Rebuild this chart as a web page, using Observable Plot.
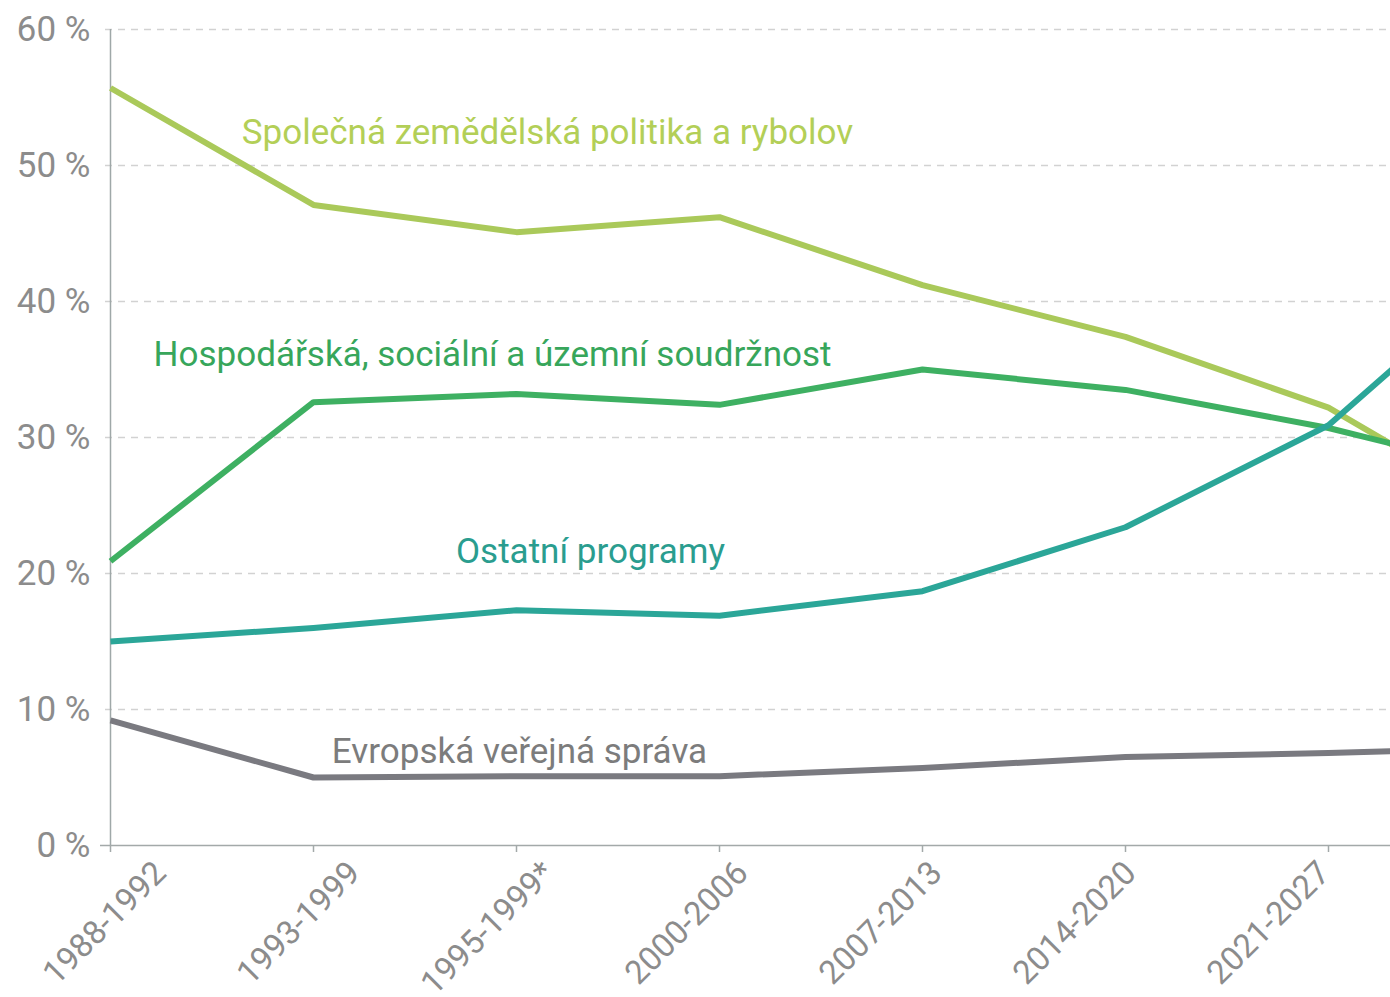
<!DOCTYPE html>
<html>
<head>
<meta charset="utf-8">
<script src="https://cdn.jsdelivr.net/npm/d3@7"></script>
<script src="https://cdn.jsdelivr.net/npm/@observablehq/plot@0.6"></script>
<style>
  html, body { margin: 0; padding: 0; background: #fff; }
  #wrap { position: relative; width: 1390px; height: 997px; overflow: hidden; background: #fff; }
  #wrap svg { position: absolute; left: 0; top: 0; max-width: none !important; }
</style>
</head>
<body>
<div id="wrap"></div>
<script>
// ---- data ----
const periods = ["1988-1992", "1993-1999", "1995-1999*", "2000-2006", "2007-2013", "2014-2020", "2021-2027", "2028-2034"];
const visiblePeriods = periods.slice(0, 7);
const seriesKeys = ["admin", "cap", "cohesion", "other"];
const seriesNames = {
  cap: "Společná zemědělská politika a rybolov",
  cohesion: "Hospodářská, sociální a územní soudržnost",
  other: "Ostatní programy",
  admin: "Evropská veřejná správa"
};
const cap      = [55.7, 47.1, 45.1, 46.2, 41.2, 37.4, 32.2, 23.5];
const cohesion = [20.9, 32.6, 33.2, 32.4, 35.0, 33.5, 30.7, 27.0];
const other    = [15.0, 16.0, 17.3, 16.9, 18.7, 23.4, 30.9, 44.0];
const admin    = [ 9.2,  5.0,  5.1,  5.1,  5.7,  6.5,  6.8,  7.2];
const yTicks = [0, 10, 20, 30, 40, 50, 60];

// label anchor (category + value)
const labelPos = {
  cap:      {period: "1995-1999*", y: 52.4},
  cohesion: {period: "1995-1999*", y: 36.1},
  other:    {period: "2000-2006",  y: 21.6},
  admin:    {period: "1995-1999*", y: 6.9}
};

// ---- build table ----
const valuesByKey = {cap, cohesion, other, admin};
const table = [];
for (const k of seriesKeys) {
  valuesByKey[k].forEach((v, i) => table.push({series: k, period: periods[i], value: v}));
}

const lineColors  = {cap: "#aac95a", cohesion: "#3eb062", other: "#2ba698", admin: "#7a7a80"};
const labelColors = {cap: "#b3cf57", cohesion: "#37a65b", other: "#2a9d8f", admin: "#7c7c7c"};
const labelDx     = {cap: 31, cohesion: -24, other: -129, admin: 3};

const W = 1560, H = 997;
const font = "Roboto, 'Open Sans', sans-serif";
const wrap = document.getElementById("wrap");

const plot = Plot.plot({
  width: W, height: H,
  marginLeft: 110, marginRight: W - 1531, marginTop: 29, marginBottom: 152,
  x: {type: "point", domain: periods, padding: 0, label: null},
  y: {domain: [0, 60], label: null},
  color: {domain: seriesKeys, range: seriesKeys.map(k => lineColors[k])},
  style: {fontFamily: font, color: "#8c8c8c", background: "transparent", overflow: "visible"},
  marks: [
    Plot.gridY(yTicks.filter(d => d > 0), {stroke: "#d2d2d2", strokeOpacity: 1, strokeWidth: 1.5, strokeDasharray: "7,6", insetLeft: -5}),
    Plot.ruleX([periods[0]], {y1: 0, y2: 60, stroke: "#9fa8a8", strokeWidth: 1.5}),
    Plot.ruleY([0], {stroke: "#a3a9a9", strokeWidth: 1.5, insetLeft: -10}),
    Plot.axisX({tickSize: 7, tickFormat: () => "", stroke: "#a3a9a9", strokeWidth: 1.5, label: null}),
    Plot.axisY({ticks: yTicks, tickSize: 0, tickPadding: 20, tickFormat: d => d + " %", fontSize: 35, label: null}),
    Plot.line(table, {x: "period", y: "value", z: "series", stroke: "series", strokeWidth: 6, strokeLinejoin: "round", strokeLinecap: "butt"}),
    ...["cap", "cohesion", "other", "admin"].map(k =>
      Plot.text([k], {
        x: () => labelPos[k].period, y: () => labelPos[k].y,
        text: d => seriesNames[d], fill: labelColors[k], dx: labelDx[k],
        textAnchor: "middle", fontSize: 35
      })
    )
  ]
});

const labels = Plot.plot({
  width: W, height: H,
  marginLeft: 159, marginRight: W - 1518, marginTop: 29, marginBottom: 152,
  x: {type: "point", domain: periods, padding: 0, label: null},
  style: {fontFamily: font, color: "#8c8c8c", background: "transparent"},
  marks: [
    Plot.axisX({tickRotate: -45, tickSize: 0, tickPadding: 22, fontSize: 33, label: null,
      tickFormat: d => visiblePeriods.includes(d) ? d : ""})
  ]
});

for (const p of [plot, labels]) {
  p.style.maxWidth = "none";
  p.style.width = W + "px";
  p.style.height = H + "px";
  wrap.appendChild(p);
}
</script>
</body>
</html>
